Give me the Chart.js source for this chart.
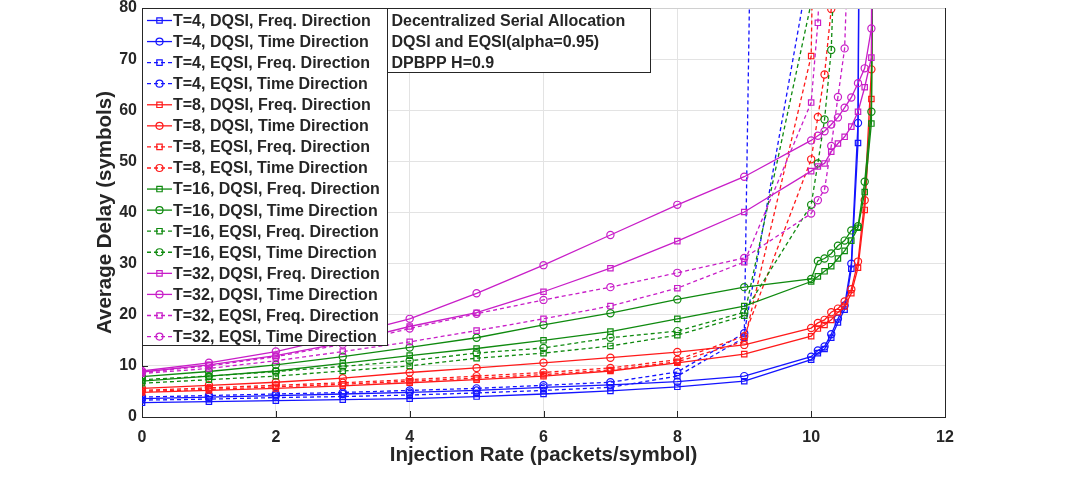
<!DOCTYPE html>
<html>
<head>
<meta charset="utf-8">
<script src="https://cdn.jsdelivr.net/npm/chart.js@4/dist/chart.umd.min.js"></script>
<style>
  html, body { margin: 0; padding: 0; background: #fff; }
</style>
</head>
<body>
<canvas id="delayChart" width="1086" height="499"></canvas>
<script>
// injection rates (x) per group of runs
const rateT4Dqsi = [0, 1, 2, 3, 4, 5, 6, 7, 8, 9, 10, 10.1, 10.2, 10.3, 10.4, 10.5, 10.6, 10.7, 10.8];
const rateDqsi = [0, 1, 2, 3, 4, 5, 6, 7, 8, 9, 10, 10.1, 10.2, 10.3, 10.4, 10.5, 10.6, 10.7, 10.8, 10.9, 11];
const rateT4EqsiFreq = [0, 1, 2, 3, 4, 5, 6, 7, 8, 9, 9.1];
const rateT4EqsiTime = [0, 1, 2, 3, 4, 5, 6, 7, 8, 9, 10];
const rateT8EqsiFreq = [0, 1, 2, 3, 4, 5, 6, 7, 8, 9, 10, 10.1];
const rateT8EqsiTime = [0, 1, 2, 3, 4, 5, 6, 7, 8, 9, 10, 10.1, 10.2, 10.3, 10.4];
const rateT16EqsiFreq = [0, 1, 2, 3, 4, 5, 6, 7, 8, 9, 10, 10.1];
const rateT16EqsiTime = [0, 1, 2, 3, 4, 5, 6, 7, 8, 9, 10, 10.1, 10.2, 10.3, 10.4];
const rateT32EqsiFreq = [0, 1, 2, 3, 4, 5, 6, 7, 8, 9, 10, 10.1, 10.2];
const rateT32EqsiTime = [0, 1, 2, 3, 4, 5, 6, 7, 8, 9, 10, 10.1, 10.2, 10.3, 10.4, 10.5, 10.6];

// average delay (symbols)
const t4DqsiFreq = [2.8, 3.0, 3.2, 3.4, 3.6, 4.0, 4.5, 5.1, 5.9, 7.0, 11.2, 12.5, 13.3, 15.5, 18.5, 21.0, 29.0, 53.6, 300];
const t4DqsiTime = [3.6, 3.9, 4.2, 4.5, 4.8, 5.2, 5.8, 6.3, 6.9, 8.0, 11.8, 13.0, 13.8, 16.2, 19.2, 21.8, 30.0, 57.5, 320];
const t4EqsiFreq = [3.3, 3.5, 3.8, 4.0, 4.3, 4.7, 5.2, 5.8, 8.0, 15.5, 100];
const t4EqsiTime = [3.9, 4.2, 4.5, 4.8, 5.2, 5.6, 6.2, 6.8, 8.8, 16.4, 90];
const t8DqsiFreq = [4.8, 5.2, 5.6, 6.1, 6.7, 7.3, 8.0, 9.0, 10.6, 12.3, 15.8, 17.3, 18.0, 19.0, 20.5, 21.6, 24.2, 29.2, 40.5, 62.2, 250];
const t8DqsiTime = [5.6, 6.2, 6.8, 7.6, 8.7, 9.6, 10.6, 11.6, 12.7, 14.1, 17.4, 18.4, 19.0, 20.5, 21.2, 22.6, 25.0, 30.4, 42.4, 68.0, 250];
const t8EqsiFreq = [5.0, 5.4, 5.9, 6.4, 7.0, 7.6, 8.3, 9.2, 10.8, 14.8, 70.6, 150];
const t8EqsiTime = [5.2, 5.7, 6.2, 6.7, 7.3, 8.0, 8.7, 9.6, 11.2, 15.8, 50.4, 58.7, 67.0, 79.8, 110];
const t16DqsiFreq = [7.0, 8.0, 9.0, 10.5, 12.0, 13.4, 15.0, 16.7, 19.2, 21.7, 26.5, 27.5, 28.5, 29.5, 31.0, 32.5, 34.5, 37.0, 44.0, 57.4, 250];
const t16DqsiTime = [7.9, 8.9, 10.2, 11.8, 13.6, 15.5, 18.0, 20.3, 23.0, 25.4, 27.0, 30.5, 31.0, 32.0, 33.5, 34.5, 36.5, 37.3, 46.0, 59.7, 250];
const t16EqsiFreq = [6.6, 7.3, 8.0, 9.0, 10.0, 11.5, 12.5, 13.9, 16.0, 19.8, 81, 160];
const t16EqsiTime = [7.3, 8.0, 8.9, 9.9, 11.0, 12.5, 13.5, 15.5, 16.8, 20.5, 41.5, 49.6, 58.2, 71.8, 110];
const t32DqsiFreq = [8.8, 10.2, 12.0, 14.5, 17.7, 20.4, 24.5, 29.1, 34.4, 40.1, 48.1, 49.0, 49.6, 51.9, 53.5, 54.8, 56.8, 59.7, 64.5, 70.3, 250];
const t32DqsiTime = [9.0, 10.6, 12.8, 15.8, 19.2, 24.2, 29.7, 35.6, 41.5, 47.0, 54.1, 55.0, 55.9, 57.2, 58.6, 60.5, 62.5, 65.3, 68.2, 76.0, 250];
const t32EqsiFreq = [8.5, 9.5, 11.0, 12.8, 14.7, 16.9, 19.2, 21.7, 25.2, 30.3, 61.5, 77.1, 110];
const t32EqsiTime = [8.7, 10.0, 11.8, 14.2, 17.3, 20.2, 22.9, 25.4, 28.2, 31.1, 39.8, 42.4, 44.5, 53.0, 62.6, 72.1, 110];

const xTicks = [0, 2, 4, 6, 8, 10, 12];
const yTicks = [0, 10, 20, 30, 40, 50, 60, 70, 80];
const noteLines = ['Decentralized Serial Allocation', 'DQSI and EQSI(alpha=0.95)', 'DPBPP H=0.9'];

const BLUE = '#1414ff', RED = '#ff1a1a', GREEN = '#0f8a0f', MAGENTA = '#c81ec8';

function series(label, xs, ys, color, dashed, marker) {
  return {
    label: label,
    data: xs.map((x, i) => ({ x: x, y: ys[i] })),
    showLine: true,
    borderColor: color,
    borderWidth: 1.3,
    borderDash: dashed ? [4, 3] : [],
    pointStyle: marker,
    pointRadius: marker === 'rect' ? 3.8 : 3.6,
    pointBorderColor: color,
    pointBackgroundColor: 'rgba(0,0,0,0)',
    pointBorderWidth: 1.2,
    fill: false,
  };
}

const datasets = [
  series('T=4, DQSI, Freq. Direction', rateT4Dqsi, t4DqsiFreq, BLUE, false, 'rect'),
  series('T=4, DQSI, Time Direction', rateT4Dqsi, t4DqsiTime, BLUE, false, 'circle'),
  series('T=4, EQSI, Freq. Direction', rateT4EqsiFreq, t4EqsiFreq, BLUE, true, 'rect'),
  series('T=4, EQSI, Time Direction', rateT4EqsiTime, t4EqsiTime, BLUE, true, 'circle'),
  series('T=8, DQSI, Freq. Direction', rateDqsi, t8DqsiFreq, RED, false, 'rect'),
  series('T=8, DQSI, Time Direction', rateDqsi, t8DqsiTime, RED, false, 'circle'),
  series('T=8, EQSI, Freq. Direction', rateT8EqsiFreq, t8EqsiFreq, RED, true, 'rect'),
  series('T=8, EQSI, Time Direction', rateT8EqsiTime, t8EqsiTime, RED, true, 'circle'),
  series('T=16, DQSI, Freq. Direction', rateDqsi, t16DqsiFreq, GREEN, false, 'rect'),
  series('T=16, DQSI, Time Direction', rateDqsi, t16DqsiTime, GREEN, false, 'circle'),
  series('T=16, EQSI, Freq. Direction', rateT16EqsiFreq, t16EqsiFreq, GREEN, true, 'rect'),
  series('T=16, EQSI, Time Direction', rateT16EqsiTime, t16EqsiTime, GREEN, true, 'circle'),
  series('T=32, DQSI, Freq. Direction', rateDqsi, t32DqsiFreq, MAGENTA, false, 'rect'),
  series('T=32, DQSI, Time Direction', rateDqsi, t32DqsiTime, MAGENTA, false, 'circle'),
  series('T=32, EQSI, Freq. Direction', rateT32EqsiFreq, t32EqsiFreq, MAGENTA, true, 'rect'),
  series('T=32, EQSI, Time Direction', rateT32EqsiTime, t32EqsiTime, MAGENTA, true, 'circle'),
];
// later series drawn on top, like matlab
datasets.forEach((ds, i) => { ds.order = datasets.length - i; });

const FONT = '"Liberation Sans", Arial, sans-serif';

// axes box, inward ticks, legend box and note box
const overlay = {
  id: 'overlay',
  afterDatasetsDraw(chart) {
    const ctx = chart.ctx;
    const a = chart.chartArea;
    const xs = chart.scales.x, ys = chart.scales.y;
    ctx.save();
    ctx.setLineDash([]);
    ctx.lineWidth = 1;
    ctx.strokeStyle = '#262626';
    ctx.beginPath();
    ctx.moveTo(a.right + 0.5, a.bottom);
    ctx.lineTo(a.right + 0.5, a.top);
    ctx.stroke();
    ctx.strokeStyle = '#d0d0d0';
    ctx.beginPath();
    ctx.moveTo(a.left, a.top + 0.5);
    ctx.lineTo(a.right, a.top + 0.5);
    ctx.stroke();
    ctx.strokeStyle = '#262626';
    ctx.beginPath();
    xTicks.forEach(v => {
      const px = Math.round(xs.getPixelForValue(v)) + 0.5;
      ctx.moveTo(px, a.bottom);
      ctx.lineTo(px, a.bottom - 6);
    });
    yTicks.forEach(v => {
      const py = Math.round(ys.getPixelForValue(v)) + 0.5;
      ctx.moveTo(a.left, py);
      ctx.lineTo(a.left + 6, py);
    });
    ctx.stroke();

    // legend
    const lx = a.left + 0.5, ly = a.top + 0.5, lw = 245, lh = 337;
    ctx.fillStyle = '#ffffff';
    ctx.fillRect(lx, ly, lw, lh);
    ctx.strokeStyle = '#262626';
    ctx.strokeRect(lx, ly, lw, lh);
    ctx.font = 'bold 16px ' + FONT;
    ctx.textBaseline = 'middle';
    ctx.textAlign = 'left';
    chart.data.datasets.forEach((ds, i) => {
      const y = a.top + 12.5 + i * 21.07;
      const x0 = a.left + 5, x1 = a.left + 30, xm = (x0 + x1) / 2;
      ctx.strokeStyle = ds.borderColor;
      ctx.lineWidth = 1.3;
      ctx.setLineDash(ds.borderDash);
      ctx.beginPath();
      ctx.moveTo(x0, y);
      ctx.lineTo(x1, y);
      ctx.stroke();
      ctx.setLineDash([]);
      ctx.lineWidth = 1.2;
      ctx.beginPath();
      if (ds.pointStyle === 'rect') {
        ctx.rect(xm - 2.7, y - 2.7, 5.4, 5.4);
      } else {
        ctx.arc(xm, y, 3.5, 0, Math.PI * 2);
      }
      ctx.stroke();
      ctx.fillStyle = '#262626';
      ctx.fillText(ds.label, a.left + 31, y + 1);
    });

    // note box
    const nx = a.left + 245.5, ny = a.top + 0.5, nw = 263, nh = 64;
    ctx.fillStyle = '#ffffff';
    ctx.fillRect(nx, ny, nw, nh);
    ctx.strokeStyle = '#262626';
    ctx.lineWidth = 1;
    ctx.strokeRect(nx, ny, nw, nh);
    ctx.fillStyle = '#262626';
    noteLines.forEach((t, i) => {
      ctx.fillText(t, nx + 4, a.top + 13.5 + i * 21);
    });
    ctx.restore();
  }
};

new Chart(document.getElementById('delayChart'), {
  type: 'scatter',
  data: { datasets: datasets },
  plugins: [overlay],
  options: {
    responsive: false,
    animation: false,
    layout: { padding: { left: 88, right: 141, top: 8, bottom: 28 } },
    plugins: {
      legend: { display: false },
      tooltip: { enabled: false },
    },
    scales: {
      x: {
        type: 'linear',
        min: 0,
        max: 12,
        afterBuildTicks: s => { s.ticks = xTicks.map(v => ({ value: v })); },
        afterFit: s => { s.height = 54; },
        ticks: {
          color: '#262626',
          font: { family: FONT, size: 16, weight: 'bold' },
          padding: 11,
          maxRotation: 0,
        },
        grid: { color: '#e3e3e3', drawTicks: false },
        border: { color: '#262626' },
        title: {
          display: true,
          text: 'Injection Rate (packets/symbol)',
          color: '#262626',
          font: { family: FONT, size: 20.5, weight: 'bold' },
          padding: { top: 0, bottom: 3 },
        },
      },
      y: {
        type: 'linear',
        min: 0,
        max: 80,
        afterBuildTicks: s => { s.ticks = yTicks.map(v => ({ value: v })); },
        afterFit: s => { s.width = 54; s.paddingTop = 0; s.paddingBottom = 0; },
        ticks: {
          color: '#262626',
          font: { family: FONT, size: 16, weight: 'bold' },
          padding: 5,
        },
        grid: { color: '#e3e3e3', drawTicks: false },
        border: { color: '#262626' },
        title: {
          display: true,
          text: 'Average Delay (symbols)',
          color: '#262626',
          font: { family: FONT, size: 20.5, weight: 'bold' },
          padding: { top: 5, bottom: 0 },
        },
      },
    },
  },
});
</script>
</body>
</html>
